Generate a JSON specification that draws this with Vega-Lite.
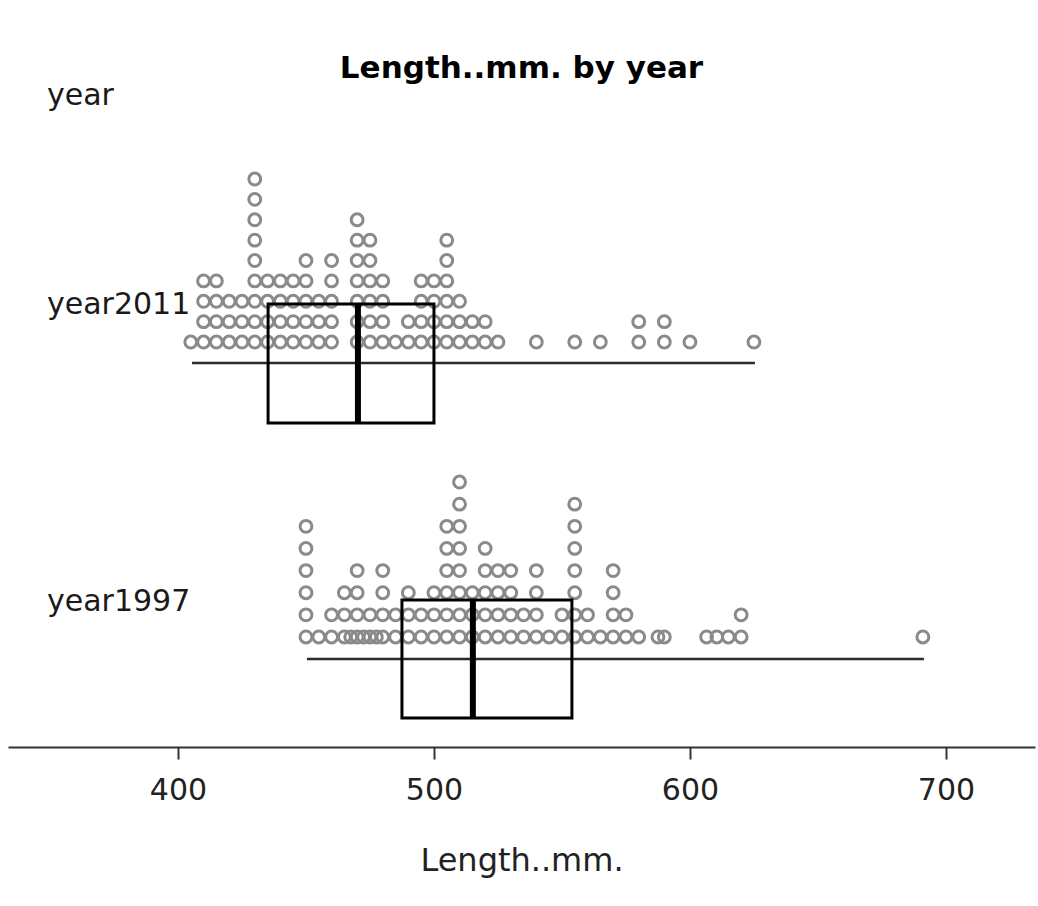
{
  "$schema": "https://vega.github.io/schema/vega-lite/v6.json",
  "padding": {"left": 8, "right": 3, "top": 53, "bottom": 12},
  "title": {"text": "Length..mm. by year", "fontSize": 31, "font": "DejaVu Sans", "fontWeight": "bold", "color": "#000000", "anchor": "middle", "offset": -4},
  "spacing": 0,
  "config": {"view": {"stroke": null}, "font": "DejaVu Sans"},
  "datasets": {
    "box": [
      {"year": "2011", "label": "year2011", "min": 405.5, "q1": 435.2, "median": 470.3, "q3": 500.0, "max": 625.4},
      {"year": "1997", "label": "year1997", "min": 450.4, "q1": 487.5, "median": 515.2, "q3": 553.9, "max": 691.4}
    ],
    "dots": [
      {"year":"2011","length":405},
      {"year":"2011","length":410},{"year":"2011","length":410},{"year":"2011","length":410},{"year":"2011","length":410},
      {"year":"2011","length":415},{"year":"2011","length":415},{"year":"2011","length":415},{"year":"2011","length":415},
      {"year":"2011","length":420},{"year":"2011","length":420},{"year":"2011","length":420},
      {"year":"2011","length":425},{"year":"2011","length":425},{"year":"2011","length":425},
      {"year":"2011","length":430},{"year":"2011","length":430},{"year":"2011","length":430},{"year":"2011","length":430},{"year":"2011","length":430},{"year":"2011","length":430},{"year":"2011","length":430},{"year":"2011","length":430},{"year":"2011","length":430},
      {"year":"2011","length":435},{"year":"2011","length":435},{"year":"2011","length":435},{"year":"2011","length":435},
      {"year":"2011","length":440},{"year":"2011","length":440},{"year":"2011","length":440},{"year":"2011","length":440},
      {"year":"2011","length":445},{"year":"2011","length":445},{"year":"2011","length":445},{"year":"2011","length":445},
      {"year":"2011","length":450},{"year":"2011","length":450},{"year":"2011","length":450},{"year":"2011","length":450},{"year":"2011","length":450},
      {"year":"2011","length":455},{"year":"2011","length":455},{"year":"2011","length":455},
      {"year":"2011","length":460},{"year":"2011","length":460},{"year":"2011","length":460},{"year":"2011","length":460},{"year":"2011","length":460},
      {"year":"2011","length":470},{"year":"2011","length":470},{"year":"2011","length":470},{"year":"2011","length":470},{"year":"2011","length":470},{"year":"2011","length":470},{"year":"2011","length":470},
      {"year":"2011","length":475},{"year":"2011","length":475},{"year":"2011","length":475},{"year":"2011","length":475},{"year":"2011","length":475},{"year":"2011","length":475},
      {"year":"2011","length":480},{"year":"2011","length":480},{"year":"2011","length":480},{"year":"2011","length":480},
      {"year":"2011","length":485},
      {"year":"2011","length":490},{"year":"2011","length":490},
      {"year":"2011","length":495},{"year":"2011","length":495},{"year":"2011","length":495},{"year":"2011","length":495},
      {"year":"2011","length":500},{"year":"2011","length":500},{"year":"2011","length":500},{"year":"2011","length":500},
      {"year":"2011","length":505},{"year":"2011","length":505},{"year":"2011","length":505},{"year":"2011","length":505},{"year":"2011","length":505},{"year":"2011","length":505},
      {"year":"2011","length":510},{"year":"2011","length":510},{"year":"2011","length":510},
      {"year":"2011","length":515},{"year":"2011","length":515},
      {"year":"2011","length":520},{"year":"2011","length":520},
      {"year":"2011","length":525},
      {"year":"2011","length":540},
      {"year":"2011","length":555},
      {"year":"2011","length":565},
      {"year":"2011","length":580},{"year":"2011","length":580},
      {"year":"2011","length":590},{"year":"2011","length":590},
      {"year":"2011","length":600},
      {"year":"2011","length":625},
      {"year":"1997","length":450},{"year":"1997","length":450},{"year":"1997","length":450},{"year":"1997","length":450},{"year":"1997","length":450},{"year":"1997","length":450},
      {"year":"1997","length":455},
      {"year":"1997","length":460},{"year":"1997","length":460},
      {"year":"1997","length":465},{"year":"1997","length":465},{"year":"1997","length":465},
      {"year":"1997","length":467.5},
      {"year":"1997","length":470},{"year":"1997","length":470},{"year":"1997","length":470},{"year":"1997","length":470},
      {"year":"1997","length":472.5},
      {"year":"1997","length":475},{"year":"1997","length":475},
      {"year":"1997","length":477.5},
      {"year":"1997","length":480},{"year":"1997","length":480},{"year":"1997","length":480},{"year":"1997","length":480},
      {"year":"1997","length":485},{"year":"1997","length":485},
      {"year":"1997","length":490},{"year":"1997","length":490},{"year":"1997","length":490},
      {"year":"1997","length":495},{"year":"1997","length":495},
      {"year":"1997","length":500},{"year":"1997","length":500},{"year":"1997","length":500},
      {"year":"1997","length":505},{"year":"1997","length":505},{"year":"1997","length":505},{"year":"1997","length":505},{"year":"1997","length":505},{"year":"1997","length":505},
      {"year":"1997","length":510},{"year":"1997","length":510},{"year":"1997","length":510},{"year":"1997","length":510},{"year":"1997","length":510},{"year":"1997","length":510},{"year":"1997","length":510},{"year":"1997","length":510},
      {"year":"1997","length":515},{"year":"1997","length":515},{"year":"1997","length":515},
      {"year":"1997","length":520},{"year":"1997","length":520},{"year":"1997","length":520},{"year":"1997","length":520},{"year":"1997","length":520},
      {"year":"1997","length":525},{"year":"1997","length":525},{"year":"1997","length":525},{"year":"1997","length":525},
      {"year":"1997","length":530},{"year":"1997","length":530},{"year":"1997","length":530},{"year":"1997","length":530},
      {"year":"1997","length":535},{"year":"1997","length":535},
      {"year":"1997","length":540},{"year":"1997","length":540},{"year":"1997","length":540},{"year":"1997","length":540},
      {"year":"1997","length":545},
      {"year":"1997","length":550},{"year":"1997","length":550},
      {"year":"1997","length":555},{"year":"1997","length":555},{"year":"1997","length":555},{"year":"1997","length":555},{"year":"1997","length":555},{"year":"1997","length":555},{"year":"1997","length":555},
      {"year":"1997","length":560},{"year":"1997","length":560},
      {"year":"1997","length":565},
      {"year":"1997","length":570},{"year":"1997","length":570},{"year":"1997","length":570},{"year":"1997","length":570},
      {"year":"1997","length":575},{"year":"1997","length":575},
      {"year":"1997","length":580},
      {"year":"1997","length":587.5},
      {"year":"1997","length":590},
      {"year":"1997","length":606.5},
      {"year":"1997","length":610.5},
      {"year":"1997","length":615},
      {"year":"1997","length":620},{"year":"1997","length":620},
      {"year":"1997","length":691}
    ]
  },
  "vconcat": [
    {
      "width": 1027,
      "height": 380,
      "layer": [
        {
          "data": {"name": "dots"},
          "transform": [
            {"filter": "datum.year == '2011'"},
            {"window": [{"op": "row_number", "as": "lvl"}], "groupby": ["length"]}
          ],
          "mark": {"type": "point", "shape": "circle", "filled": false, "stroke": "#8a8a8a", "strokeWidth": 3, "size": 140, "opacity": 1},
          "encoding": {
            "x": {"field": "length", "type": "quantitative", "scale": {"domain": [333.6, 734.8], "nice": false, "zero": false}, "axis": null},
            "y": {"field": "lvl", "type": "quantitative", "scale": {"domain": [-4.84, 13.81], "nice": false, "zero": false}, "axis": null}
          }
        },
        {
          "data": {"name": "box"},
          "transform": [{"filter": "datum.year == '2011'"}],
          "mark": {"type": "rule", "color": "#2a2a2a", "strokeWidth": 2.5},
          "encoding": {
            "x": {"field": "min", "type": "quantitative"},
            "x2": {"field": "max"},
            "y": {"datum": -0.03}
          }
        },
        {
          "data": {"name": "box"},
          "transform": [{"filter": "datum.year == '2011'"}],
          "mark": {"type": "rect", "fill": "transparent", "stroke": "#000000", "strokeWidth": 3},
          "encoding": {
            "x": {"field": "q1", "type": "quantitative"},
            "x2": {"field": "q3"},
            "y": {"datum": 2.86},
            "y2": {"datum": -2.97}
          }
        },
        {
          "data": {"name": "box"},
          "transform": [{"filter": "datum.year == '2011'"}],
          "mark": {"type": "rule", "color": "#000000", "strokeWidth": 6},
          "encoding": {
            "x": {"field": "median", "type": "quantitative"},
            "y": {"datum": 2.86},
            "y2": {"datum": -2.97}
          }
        },
        {
          "data": {"name": "box"},
          "transform": [{"filter": "datum.year == '2011'"}],
          "mark": {"type": "text", "align": "left", "baseline": "alphabetic", "fontSize": 30, "color": "#1a1a1a"},
          "encoding": {
            "x": {"datum": 348.83},
            "y": {"datum": 2.374},
            "text": {"field": "label"}
          }
        },
        {
          "data": {"values": [{"t": "year"}]},
          "mark": {"type": "text", "align": "left", "baseline": "alphabetic", "fontSize": 30, "color": "#1a1a1a"},
          "encoding": {
            "x": {"datum": 348.83},
            "y": {"datum": 12.63},
            "text": {"field": "t"}
          }
        }
      ]
    },
    {
      "width": 1027,
      "height": 286,
      "layer": [
        {
          "data": {"name": "dots"},
          "transform": [
            {"filter": "datum.year == '1997'"},
            {"window": [{"op": "row_number", "as": "lvl"}], "groupby": ["length"]}
          ],
          "mark": {"type": "point", "shape": "circle", "filled": false, "stroke": "#8a8a8a", "strokeWidth": 3, "size": 140, "opacity": 1},
          "encoding": {
            "x": {
              "field": "length", "type": "quantitative",
              "scale": {"domain": [333.6, 734.8], "nice": false, "zero": false},
              "axis": {
                "orient": "bottom", "values": [400, 500, 600, 700], "grid": false,
                "domainColor": "#333333", "domainWidth": 2,
                "tickColor": "#333333", "tickWidth": 2, "tickSize": 12,
                "labelFontSize": 30, "labelColor": "#222222", "labelPadding": 16, "labelFont": "DejaVu Sans",
                "title": "Length..mm.", "titleFontSize": 32, "titleFontWeight": "normal", "titleColor": "#222222", "titlePadding": 40, "titleFont": "DejaVu Sans"
              }
            },
            "y": {"field": "lvl", "type": "quantitative", "scale": {"domain": [-3.97, 8.95], "nice": false, "zero": false}, "axis": null}
          }
        },
        {
          "data": {"name": "box"},
          "transform": [{"filter": "datum.year == '1997'"}],
          "mark": {"type": "rule", "color": "#2a2a2a", "strokeWidth": 2.5},
          "encoding": {
            "x": {"field": "min", "type": "quantitative"},
            "x2": {"field": "max"},
            "y": {"datum": 0}
          }
        },
        {
          "data": {"name": "box"},
          "transform": [{"filter": "datum.year == '1997'"}],
          "mark": {"type": "rect", "fill": "transparent", "stroke": "#000000", "strokeWidth": 3},
          "encoding": {
            "x": {"field": "q1", "type": "quantitative"},
            "x2": {"field": "q3"},
            "y": {"datum": 2.67},
            "y2": {"datum": -2.66}
          }
        },
        {
          "data": {"name": "box"},
          "transform": [{"filter": "datum.year == '1997'"}],
          "mark": {"type": "rule", "color": "#000000", "strokeWidth": 6},
          "encoding": {
            "x": {"field": "median", "type": "quantitative"},
            "y": {"datum": 2.67},
            "y2": {"datum": -2.66}
          }
        },
        {
          "data": {"name": "box"},
          "transform": [{"filter": "datum.year == '1997'"}],
          "mark": {"type": "text", "align": "left", "baseline": "alphabetic", "fontSize": 30, "color": "#1a1a1a"},
          "encoding": {
            "x": {"datum": 348.83},
            "y": {"datum": 2.174},
            "text": {"field": "label"}
          }
        }
      ]
    }
  ]
}
